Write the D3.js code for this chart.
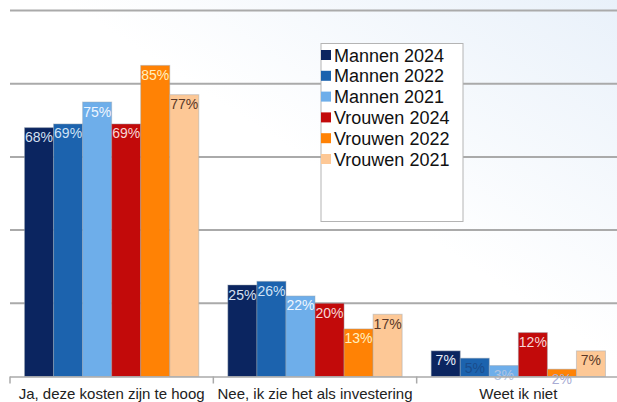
<!DOCTYPE html>
<html><head><meta charset="utf-8">
<script src="https://cdn.jsdelivr.net/npm/d3@7/dist/d3.min.js"></script>
<style>html,body{margin:0;padding:0;background:#fff;}svg{display:block;font-family:"Liberation Sans",Arial,sans-serif;}</style>
</head><body>
<svg id="c" width="617" height="402"></svg>
<script>
const categories = ["Ja, deze kosten zijn te hoog", "Nee, ik zie het als investering", "Weet ik niet"];
const seriesNames = ["Mannen 2024", "Mannen 2022", "Mannen 2021", "Vrouwen 2024", "Vrouwen 2022", "Vrouwen 2021"];
const mannen2024 = [68, 25, 7];
const mannen2022 = [69, 26, 5];
const mannen2021 = [75, 22, 3];
const vrouwen2024 = [69, 20, 12];
const vrouwen2022 = [85, 13, 2];
const vrouwen2021 = [77, 17, 7];
const yTicks = [0, 20, 40, 60, 80, 100];

const seriesValues = [mannen2024, mannen2022, mannen2021, vrouwen2024, vrouwen2022, vrouwen2021];
const colors = ["#0b2560", "#1c63ae", "#6eaeea", "#c20a0a", "#ff8205", "#fdc896"];
const labelColors = [
  ["#d6e0f2", "#d6e0f2", "#e8eef8"],
  ["#cfe2f6", "#cfe2f6", "#1a4c8c"],
  ["#eef6ff", "#eef6ff", "#b0c4e2"],
  ["#f6d6d6", "#f6d6d6", "#f6d6d6"],
  ["#fff0c0", "#fff0c0", "#a8acd4"],
  ["#5a3828", "#5a3828", "#5a3828"]
];

const svg = d3.select("#c");
const defs = svg.append("defs");
const grad = defs.append("linearGradient").attr("id", "bg").attr("x1", "0").attr("y1", "1").attr("x2", "1").attr("y2", "0");
grad.append("stop").attr("offset", "0").attr("stop-color", "#ffffff");
grad.append("stop").attr("offset", "0.55").attr("stop-color", "#ffffff");
grad.append("stop").attr("offset", "1").attr("stop-color", "#e9f1fa");
svg.append("rect").attr("width", 617).attr("height", 402).attr("fill", "url(#bg)");

const x0 = d3.scaleBand().domain(categories).range([10, 620]).paddingInner(0).paddingOuter(0);
const x1 = d3.scaleBand().domain(seriesNames).range([0, x0.bandwidth()]).paddingInner(0).paddingOuter(0.5);
const y = d3.scaleLinear().domain([0, 100]).range([376.5, 10.5]);

// gridlines
svg.append("g").selectAll("line").data(yTicks.filter(d => d > 0)).join("line")
  .attr("x1", 10).attr("x2", 617)
  .attr("y1", d => y(d)).attr("y2", d => y(d))
  .attr("stroke", "#aaaaaa").attr("stroke-width", 2);

// bars
const data = [];
categories.forEach((c, ci) => seriesNames.forEach((s, si) => data.push({c, s, ci, si, v: seriesValues[si][ci]})));
const g = svg.append("g");
g.selectAll("rect").data(data).join("rect")
  .attr("x", d => x0(d.c) + x1(d.s))
  .attr("y", d => y(d.v))
  .attr("width", x1.bandwidth())
  .attr("height", d => y(0) - y(d.v))
  .attr("fill", d => colors[d.si])
  .attr("stroke", "#9aa4b0").attr("stroke-opacity", 0.45).attr("stroke-width", 1);

// axis
const axis = svg.append("g").attr("transform", `translate(0,${y(0)})`)
  .call(d3.axisBottom(x0).tickSize(0).tickPadding(0));
axis.select(".domain").attr("stroke", "#aaaaaa").attr("stroke-width", 1.5).attr("d", "M10,0.5H617");
axis.selectAll(".tick text").attr("font-size", 15).attr("fill", "#222").attr("dy", 0).attr("y", 22)
  .attr("font-family", "Liberation Sans, Arial, sans-serif");
const bounds = categories.map(c => x0(c)).concat([x0(categories[2]) + x0.bandwidth()]);
axis.append("g").selectAll("line").data(bounds.slice(0, 3)).join("line")
  .attr("x1", d => d).attr("x2", d => d).attr("y1", 0).attr("y2", 7)
  .attr("stroke", "#aaaaaa").attr("stroke-width", 1.5);

// labels
g.selectAll("text").data(data).join("text")
  .attr("x", d => x0(d.c) + x1(d.s) + x1.bandwidth() / 2)
  .attr("y", d => y(d.v) + 14.5)
  .attr("text-anchor", "middle")
  .attr("font-size", 14)
  .attr("fill", d => labelColors[d.si][d.ci])
  .text(d => d.v + "%");

// legend
const leg = svg.append("g");
leg.append("rect").attr("x", 321).attr("y", 43.5).attr("width", 142).attr("height", 178)
  .attr("fill", "#ffffff").attr("stroke", "#b4b4b4").attr("stroke-width", 1);
const li = leg.selectAll("g.it").data(seriesNames).join("g").attr("class", "it")
  .attr("transform", (d, i) => `translate(0,${55 + i * 20.8})`);
li.append("rect").attr("x", 321).attr("y", -5).attr("width", 10).attr("height", 10).attr("fill", (d, i) => colors[i]);
li.append("text").attr("x", 334).attr("y", 6.5).attr("font-size", 18).attr("fill", "#111").text(d => d);
</script>
</body></html>
